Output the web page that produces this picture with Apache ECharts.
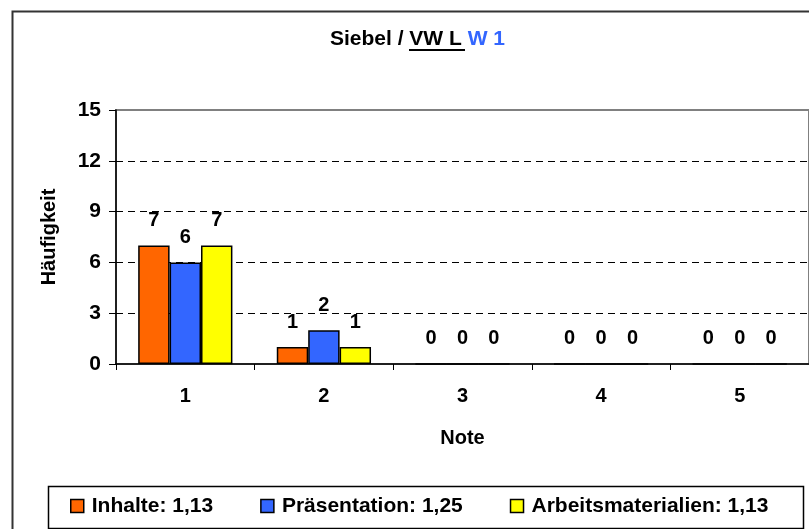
<!DOCTYPE html>
<html>
<head>
<meta charset="utf-8">
<script src="https://cdn.jsdelivr.net/npm/echarts@6/dist/echarts.min.js"></script>
<style>
html,body{margin:0;padding:0;background:#fff;}
#c{width:809px;height:529px;}
</style>
</head>
<body>
<div id="c"></div>
<script>
const categories = ['1', '2', '3', '4', '5'];
const seriesNames = ['Inhalte: 1,13', 'Präsentation: 1,25', 'Arbeitsmaterialien: 1,13'];
const inhalte = [7, 1, 0, 0, 0];
const praesentation = [6, 2, 0, 0, 0];
const arbeitsmaterialien = [7, 1, 0, 0, 0];
const yTicks = [0, 3, 6, 9, 12, 15];
const colors = ['#FF6600', '#3366FF', '#FFFF00'];

const FONT = '"Liberation Sans", Arial, sans-serif';
const chart = echarts.init(document.getElementById('c'), null, {renderer: 'canvas'});

function mkSeries(name, data, color) {
  return {
    name: name,
    type: 'bar',
    data: data,
    barGap: '0%',
    barCategoryGap: '32%',
    itemStyle: {color: color, borderColor: '#000', borderWidth: 1.5},
    label: {
      show: true, position: 'top', distance: 15,
      color: '#000', fontFamily: FONT, fontWeight: 'bold', fontSize: 20
    },
    emphasis: {disabled: true},
    animation: false
  };
}

chart.setOption({
  animation: false,
  backgroundColor: '#fff',
  title: {
    text: 'Siebel / {b|VW L} {c|W 1}',
    left: 330, top: 29, padding: 0,
    textStyle: {
      fontFamily: FONT, fontWeight: 'bold', fontSize: 21, color: '#000',
      rich: {
        b: {fontFamily: FONT, fontWeight: 'bold', fontSize: 21, color: '#000'},
        c: {fontFamily: FONT, fontWeight: 'bold', fontSize: 21, color: '#3366FF'}
      }
    }
  },
  legend: {
    data: seriesNames,
    left: 70, top: 495, padding: 0,
    itemWidth: 13, itemHeight: 13, itemGap: 47,
    icon: 'rect',
    itemStyle: {borderColor: '#000', borderWidth: 1.5},
    textStyle: {fontFamily: FONT, fontWeight: 'bold', fontSize: 21, color: '#000', padding: [0, 0, 0, 3], lineHeight: 22}
  },
  grid: {
    left: 116, right: 0, top: 110, bottom: 165,
    show: true, borderColor: '#808080', borderWidth: 2, backgroundColor: 'transparent'
  },
  xAxis: {
    type: 'category',
    data: categories,
    name: 'Note', nameLocation: 'middle', nameGap: 64,
    nameTextStyle: {fontFamily: FONT, fontWeight: 'bold', fontSize: 20, color: '#000'},
    axisLine: {lineStyle: {color: '#000', width: 1.5}},
    axisTick: {show: true, length: 6, lineStyle: {color: '#000', width: 1}},
    axisLabel: {margin: 22, fontFamily: FONT, fontWeight: 'bold', fontSize: 20, color: '#000'},
    splitLine: {show: false}
  },
  yAxis: {
    type: 'value',
    min: yTicks[0], max: yTicks[yTicks.length - 1], interval: 3,
    name: 'Häufigkeit', nameLocation: 'middle', nameGap: 57, nameRotate: 90,
    nameTextStyle: {fontFamily: FONT, fontWeight: 'bold', fontSize: 20, color: '#000'},
    axisLine: {show: true, lineStyle: {color: '#000', width: 1.5}},
    axisTick: {show: true, length: 7, lineStyle: {color: '#000', width: 1}},
    axisLabel: {margin: 15, fontFamily: FONT, fontWeight: 'bold', fontSize: 21, color: '#000'},
    splitLine: {show: true, showMinLine: false, showMaxLine: false, lineStyle: {color: '#000', width: 1, type: [7, 5]}}
  },
  series: [
    mkSeries(seriesNames[0], inhalte, colors[0]),
    mkSeries(seriesNames[1], praesentation, colors[1]),
    mkSeries(seriesNames[2], arbeitsmaterialien, colors[2])
  ],
  graphic: [
    {type: 'rect', left: 10, top: 9, shape: {width: 900, height: 600}, style: {fill: 'none', stroke: '#333', lineWidth: 2}, silent: true, z: 100},
    {type: 'rect', left: 46, top: 484, shape: {width: 755, height: 42}, style: {fill: 'none', stroke: '#000', lineWidth: 1.5}, silent: true, z: 100},
    {type: 'line', shape: {x1: 409, y1: 50, x2: 465, y2: 50}, style: {stroke: '#000', lineWidth: 2}, silent: true, z: 100}
  ]
});
</script>
</body>
</html>
